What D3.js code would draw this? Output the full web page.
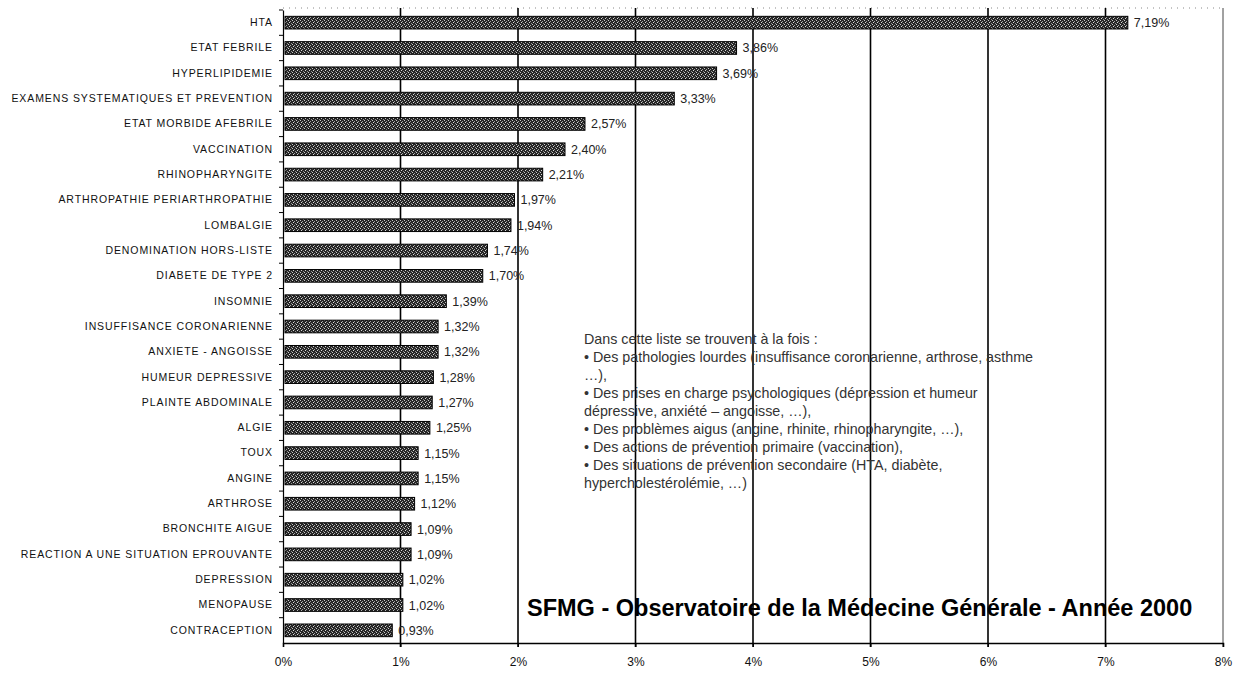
<!DOCTYPE html>
<html>
<head>
<meta charset="utf-8">
<script src="https://cdn.jsdelivr.net/npm/d3@7"></script>
<style>
  body { margin:0; background:#fff; }
  text { font-family: "Liberation Sans", Arial, sans-serif; }
</style>
</head>
<body>
<script>
// data
const categories = ["HTA","ETAT FEBRILE","HYPERLIPIDEMIE","EXAMENS SYSTEMATIQUES ET PREVENTION",
  "ETAT MORBIDE AFEBRILE","VACCINATION","RHINOPHARYNGITE","ARTHROPATHIE PERIARTHROPATHIE",
  "LOMBALGIE","DENOMINATION HORS-LISTE","DIABETE DE TYPE 2","INSOMNIE","INSUFFISANCE CORONARIENNE",
  "ANXIETE - ANGOISSE","HUMEUR DEPRESSIVE","PLAINTE ABDOMINALE","ALGIE","TOUX","ANGINE","ARTHROSE",
  "BRONCHITE AIGUE","REACTION A UNE SITUATION EPROUVANTE","DEPRESSION","MENOPAUSE","CONTRACEPTION"];
const values = [7.19,3.86,3.69,3.33,2.57,2.40,2.21,1.97,1.94,1.74,1.70,1.39,1.32,1.32,1.28,1.27,1.25,1.15,1.15,1.12,1.09,1.09,1.02,1.02,0.93];
const xTicks = [0,1,2,3,4,5,6,7,8];
const noteLines = [
  "Dans cette liste se trouvent à la fois :",
  "• Des pathologies lourdes (insuffisance coronarienne, arthrose, asthme",
  "…),",
  "• Des prises en charge psychologiques (dépression et humeur",
  "dépressive, anxiété – angoisse, …),",
  "• Des problèmes aigus (angine, rhinite, rhinopharyngite, …),",
  "• Des actions de prévention primaire (vaccination),",
  "• Des situations de prévention secondaire (HTA, diabète,",
  "hypercholestérolémie, …)"
];
const title = "SFMG - Observatoire de la Médecine Générale - Année 2000";

const W = 1257, H = 674;
const m = {top:10, right:34, bottom:31, left:283};

const svg = d3.select("body").append("svg").attr("width",W).attr("height",H);

// dithered pattern for bars
const defs = svg.append("defs");
const pat = defs.append("pattern").attr("id","dither").attr("patternUnits","userSpaceOnUse")
  .attr("width",4).attr("height",4);
pat.append("rect").attr("width",4).attr("height",4).attr("fill","#262626");
pat.append("rect").attr("x",0).attr("y",0).attr("width",1).attr("height",1).attr("fill","#c8c8c8");
pat.append("rect").attr("x",2).attr("y",1).attr("width",1).attr("height",1).attr("fill","#a0a0a0");
pat.append("rect").attr("x",1).attr("y",2).attr("width",1).attr("height",1).attr("fill","#d8d8d8");
pat.append("rect").attr("x",3).attr("y",3).attr("width",1).attr("height",1).attr("fill","#909090");

const x = d3.scaleLinear().domain([0,8]).range([m.left, W-m.right]);
const y = d3.scaleBand().domain(categories).range([m.top, H-m.bottom]).paddingInner(0.5).paddingOuter(0.25);

// top dotted border
svg.append("line").attr("x1",x(0)).attr("x2",x(8)).attr("y1",m.top-2).attr("y2",m.top-2)
  .attr("stroke","#888").attr("stroke-dasharray","1,5");

// gridlines
svg.append("g").selectAll("line").data(xTicks.slice(1)).enter().append("line")
  .attr("x1",d=>x(d)).attr("x2",d=>x(d)).attr("y1",m.top-2).attr("y2",H-m.bottom+4)
  .attr("stroke",d=>d===8?"#444":"#000").attr("stroke-width",d=>d===8?1:1.6);

// bars
svg.append("g").selectAll("rect").data(values).enter().append("rect")
  .attr("x",x(0)+2)
  .attr("y",(d,i)=>y(categories[i]))
  .attr("width",d=>x(d)-x(0)-2)
  .attr("height",y.bandwidth())
  .attr("fill","url(#dither)")
  .attr("stroke","#000").attr("stroke-width",1);

// value labels
svg.append("g").selectAll("text").data(values).enter().append("text")
  .attr("x",d=>x(d)+6)
  .attr("y",(d,i)=>y(categories[i])+y.bandwidth()/2)
  .attr("dy","0.36em")
  .attr("font-size",12.5).attr("fill","#222")
  .text(d=>d.toFixed(2).replace(".",",")+"%");

// y axis
const yAxis = d3.axisLeft(y).tickSize(0).tickPadding(10);
const ga = svg.append("g").attr("transform",`translate(${x(0)},0)`).call(yAxis);
ga.select(".domain").attr("stroke","#000").attr("stroke-width",1.2);
ga.selectAll("text").attr("font-size",10.5).attr("letter-spacing",0.9).attr("fill","#111");
// small ticks at band boundaries
svg.append("g").selectAll("line").data(categories).enter().append("line")
  .attr("x1",x(0)-4).attr("x2",x(0))
  .attr("y1",d=>y(d)-y.step()*0.25).attr("y2",d=>y(d)-y.step()*0.25)
  .attr("stroke","#000");

// x axis
const gx = svg.append("g").attr("transform",`translate(0,${H-m.bottom})`)
  .call(d3.axisBottom(x).tickValues(xTicks).tickSize(4).tickPadding(10).tickFormat(d=>d+"%"));
gx.select(".domain").attr("stroke","#000").attr("stroke-width",1.6);
gx.selectAll("text").attr("font-size",12).attr("fill","#111");

// note text
svg.append("g").selectAll("text").data(noteLines).enter().append("text")
  .attr("x",584).attr("y",(d,i)=>344+i*18)
  .attr("font-size",14.3).attr("fill","#333")
  .text(d=>d);

// title
svg.append("text").attr("x",527).attr("y",616)
  .attr("font-size",23.5).attr("font-weight","bold").attr("fill","#000")
  .text(title);
</script>
</body>
</html>
